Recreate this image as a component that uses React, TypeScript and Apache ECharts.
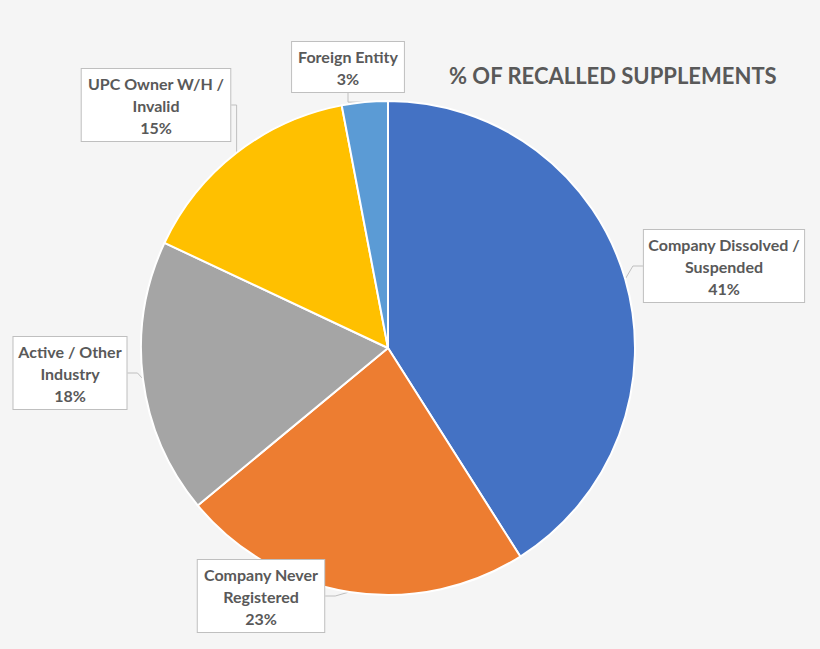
import React, { useEffect, useRef } from 'react';
import * as echarts from 'echarts';

// slices, clockwise from 12 o'clock
const categories = [
  'Company Dissolved /\nSuspended',
  'Company Never\nRegistered',
  'Active / Other\nIndustry',
  'UPC Owner W/H /\nInvalid',
  'Foreign Entity',
];
const shares = [41, 23, 18, 15, 3];
const colors = ['#4472C4', '#ED7D31', '#A5A5A5', '#FFC000', '#5B9BD5'];

// callout box centres (px)
const labelPos: [number, number][] = [
  [724, 266],
  [261, 596],
  [70, 373],
  [156, 105],
  [348, 67],
];

const App: React.FC = () => {
  const chartRef = useRef<HTMLDivElement>(null);

  useEffect(() => {
    if (!chartRef.current) return;
    document.body.style.margin = '0';
    const chart = echarts.init(chartRef.current, undefined, { renderer: 'svg' });

    const option: echarts.EChartsOption = {
      animation: false,
      backgroundColor: '#F5F5F5',
      title: {
        text: '% OF RECALLED SUPPLEMENTS',
        left: 444,
        top: 59,
        textStyle: {
          fontFamily: 'Lato',
          fontWeight: 'bold',
          fontSize: 22,
          color: '#595959',
        },
      },
      series: [
        {
          type: 'pie',
          center: [388, 348],
          radius: 247,
          startAngle: 90,
          clockwise: true,
          itemStyle: { borderColor: '#FFFFFF', borderWidth: 2 },
          label: {
            show: true,
            formatter: (p: any) => `${p.name}\n${p.value}%`,
            fontFamily: 'Lato',
            fontWeight: 'bold',
            fontSize: 16,
            lineHeight: 22,
            color: '#595959',
            align: 'center',
            overflow: 'none',
            backgroundColor: '#FFFFFF',
            borderColor: '#BFBFBF',
            borderWidth: 1,
            padding: [3, 6],
          },
          labelLine: {
            show: true,
            length: 10,
            length2: 10,
            lineStyle: { color: '#BFBFBF', width: 1 },
          },
          labelLayout: (params: any) => {
            const [x, y] = labelPos[params.dataIndex];
            return {
              x,
              y,
              align: 'center',
              verticalAlign: 'middle',
            };
          },
          data: categories.map((name, i) => ({
            name,
            value: shares[i],
            itemStyle: { color: colors[i] },
          })),
        },
      ],
    };

    chart.setOption(option);
    return () => {
      chart.dispose();
    };
  }, []);

  return <div ref={chartRef} style={{ width: '820px', height: '649px' }} />;
};

export default App;
